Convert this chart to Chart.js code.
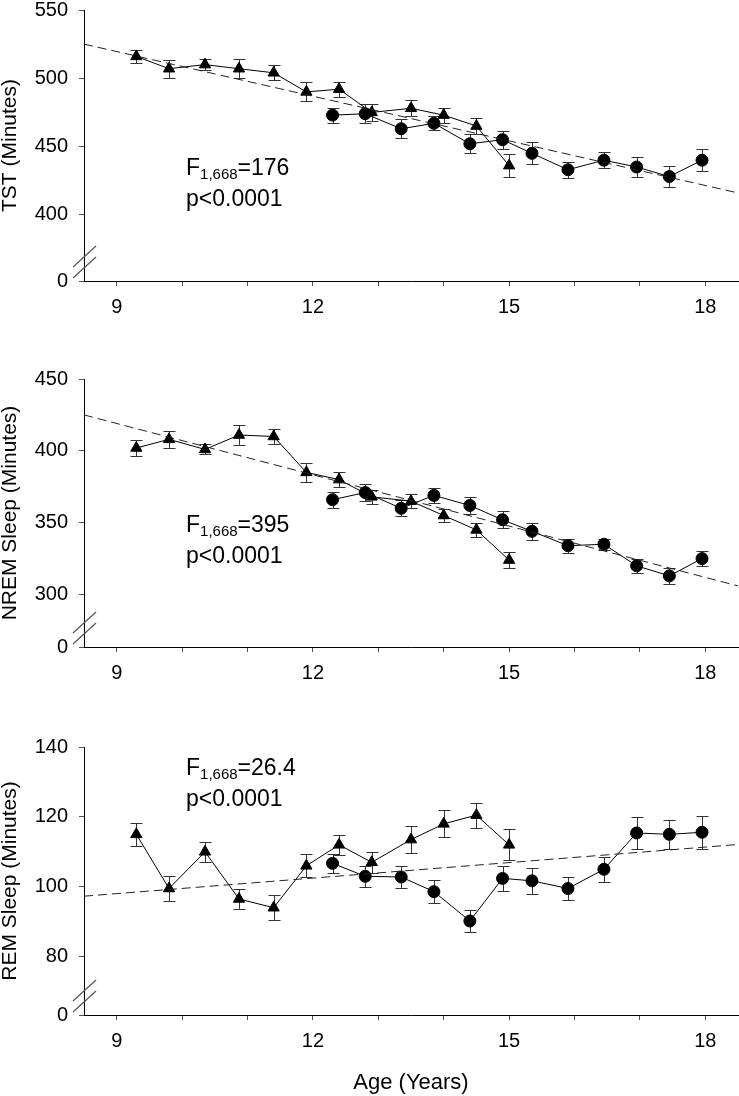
<!DOCTYPE html>
<html>
<head>
<meta charset="utf-8">
<title>Sleep by age</title>
<script src="https://cdn.jsdelivr.net/npm/chart.js@4.4.1/dist/chart.umd.min.js"></script>
<style>
    html, body { margin: 0; padding: 0; background: #fff; }
    #page { position: relative; width: 739px; height: 1096px; overflow: hidden; font-family: "Liberation Sans", Arial, sans-serif; }
    #page canvas { position: absolute; left: 0; }
    .stat { position: absolute; font-size: 23px; line-height: 28px; color: #000; white-space: nowrap; }
    .stat .sub { font-size: 15px; position: relative; top: 4px; }
</style>
</head>
<body>
<div id="page">
    <canvas id="tstChart" width="739" height="340" style="top:-13px;width:739px;height:340px"></canvas>
    <canvas id="nremChart" width="739" height="337" style="top:356px;width:739px;height:337px"></canvas>
    <canvas id="remChart" width="739" height="372" style="top:724px;width:739px;height:372px"></canvas>

    <div class="stat" style="left:186px;top:153px">F<span class="sub">1,668</span>=176<br>p&lt;0.0001</div>
    <div class="stat" style="left:186px;top:510px">F<span class="sub">1,668</span>=395<br>p&lt;0.0001</div>
    <div class="stat" style="left:186px;top:753px">F<span class="sub">1,668</span>=26.4<br>p&lt;0.0001</div>
</div>

<script>
// ========================================
// Data
// ========================================

// ages of the two cohorts (years)
const triAge  = [9.3, 9.8, 10.35, 10.87, 11.4, 11.9, 12.4, 12.9, 13.5, 14.0, 14.5, 15.0];
const circAge = [12.3, 12.8, 13.35, 13.85, 14.4, 14.9, 15.35, 15.9, 16.45, 16.95, 17.45, 17.95];
const trendAge = [8.5, 18.5];

// x axis
const ageTicks = [9, 10, 11, 12, 13, 14, 15, 16, 17, 18];
const ageLabelEvery = 3;

// TST
const tstTri      = [516, 507, 510, 507, 504, 490, 492, 475, 478, 473, 465, 436];
const tstTriErr   = [5, 6.5, 4, 7, 5.5, 7, 5.5, 6, 6, 5.5, 6, 8.5];
const tstCirc     = [473, 474, 463, 467, 452, 455, 445, 433, 440, 435, 428, 440];
const tstCircErr  = [5.5, 7, 7, 5, 7, 6.5, 8, 6, 6, 7, 7.5, 8];
const tstTrend    = [525, 416];
const tstTicks    = [400, 450, 500, 550];

// NREM sleep
const nremTri     = [402, 408, 401, 411, 410, 385, 380, 368, 365, 355, 345, 324];
const nremTriErr  = [5.5, 6, 3.5, 7, 5, 6.5, 5, 5, 5, 4.5, 5, 5.5];
const nremCirc    = [366, 371, 360, 369, 362, 352, 344, 334, 335, 320, 313, 325];
const nremCircErr = [5.5, 6, 5.5, 5, 6, 6, 6, 5, 4, 5, 5.5, 5];
const nremTrend   = [425, 306];
const nremTicks   = [300, 350, 400, 450];

// REM sleep
const remTri      = [115, 99.5, 110, 96.5, 94, 106, 112, 107, 113.5, 118, 120.5, 112];
const remTriErr   = [3.2, 3.7, 2.9, 3, 3.6, 3.3, 2.8, 3, 3.9, 3.9, 3.6, 4.4];
const remCirc     = [106.7, 103, 102.8, 98.6, 90.2, 102.4, 101.7, 99.5, 105, 115.4, 115, 115.6];
const remCircErr  = [2.8, 3, 3.2, 3.3, 3.1, 3.5, 3.8, 3.3, 3.6, 4.6, 4.2, 4.7];
const remTrend    = [97.3, 112.1];
const remTicks    = [80, 100, 120, 140];

const breakLabel = '0';

// ========================================
// Helpers
// ========================================

const FONT = '"Liberation Sans", Arial, sans-serif';

function toPoints(xs, ys) {
    return xs.map((x, i) => ({ x: x, y: ys[i] }));
}

// vertical error bars, drawn under the markers
const errorBarPlugin = {
    id: 'errorBars',
    beforeDatasetsDraw: function(chart) {
        const ctx = chart.ctx;
        const xs = chart.scales.x;
        const ys = chart.scales.y;
        ctx.save();
        ctx.strokeStyle = '#333';
        ctx.lineWidth = 1;
        chart.data.datasets.forEach(ds => {
            if (!ds.errors) return;
            ds.data.forEach((p, i) => {
                const x = Math.round(xs.getPixelForValue(p.x)) + 0.5;
                const lo = Math.round(ys.getPixelForValue(p.y - ds.errors[i])) + 0.5;
                const hi = Math.round(ys.getPixelForValue(p.y + ds.errors[i])) + 0.5;
                ctx.beginPath();
                ctx.moveTo(x, lo); ctx.lineTo(x, hi);
                ctx.moveTo(x - 6, lo); ctx.lineTo(x + 6, lo);
                ctx.moveTo(x - 6, hi); ctx.lineTo(x + 6, hi);
                ctx.stroke();
            });
        });
        ctx.restore();
    }
};

// the "//" marks on the y axis
const axisBreakPlugin = {
    id: 'axisBreak',
    afterDraw: function(chart) {
        const ctx = chart.ctx;
        const a = chart.chartArea;
        ctx.save();
        ctx.strokeStyle = '#555';
        ctx.lineWidth = 1.2;
        ctx.beginPath();
        ctx.moveTo(a.left - 11, a.bottom - 3);  ctx.lineTo(a.left + 12, a.bottom - 24);
        ctx.moveTo(a.left - 11, a.bottom - 14); ctx.lineTo(a.left + 12, a.bottom - 35);
        ctx.stroke();
        ctx.restore();
    }
};

/**
 * Build one panel
 */
function makePanel(canvasId, p) {
    const ctx = document.getElementById(canvasId).getContext('2d');

    const datasets = [
        {
            data: toPoints(trendAge, p.trend),
            borderColor: '#222',
            borderWidth: 1,
            borderDash: [9, 5],
            pointRadius: 0,
            fill: false
        },
        {
            data: toPoints(triAge, p.tri),
            errors: p.triErr,
            borderColor: '#000',
            backgroundColor: '#000',
            borderWidth: 1,
            pointStyle: 'triangle',
            pointRadius: 6.5,
            fill: false
        },
        {
            data: toPoints(circAge, p.circ),
            errors: p.circErr,
            borderColor: '#000',
            backgroundColor: '#000',
            borderWidth: 1,
            pointStyle: 'circle',
            pointRadius: 6,
            fill: false
        }
    ];

    return new Chart(ctx, {
        type: 'line',
        data: { datasets: datasets },
        plugins: [errorBarPlugin, axisBreakPlugin],
        options: {
            responsive: false,
            animation: false,
            devicePixelRatio: 1,
            layout: {
                autoPadding: false,
                padding: { top: 20, right: 1, bottom: 0, left: 0 }
            },
            plugins: {
                legend: { display: false },
                tooltip: { enabled: false }
            },
            scales: {
                x: {
                    type: 'linear',
                    min: 8.5,
                    max: 18.5,
                    afterBuildTicks: function(scale) {
                        scale.ticks = ageTicks.map(v => ({ value: v }));
                    },
                    afterFit: function(scale) {
                        scale.height = p.xHeight;
                        // labels never reach the ends, so no side padding
                        scale.paddingLeft = 0;
                        scale.paddingRight = 0;
                    },
                    grid: { drawOnChartArea: false, tickLength: 5, color: '#555' },
                    border: { color: '#000', width: 1 },
                    ticks: {
                        autoSkip: false,
                        maxRotation: 0,
                        padding: 9,
                        color: '#000',
                        font: { family: FONT, size: 20 },
                        callback: function(v) {
                            return v % ageLabelEvery === 0 ? String(v) : '';
                        }
                    },
                    title: {
                        display: !!p.xTitle,
                        text: p.xTitle || '',
                        color: '#000',
                        font: { family: FONT, size: 22, lineHeight: 1.2 },
                        padding: { top: 0, bottom: 0 }
                    }
                },
                y: {
                    type: 'linear',
                    min: p.breakAt,
                    max: p.ticks[p.ticks.length - 1],
                    afterBuildTicks: function(scale) {
                        scale.ticks = [p.breakAt].concat(p.ticks).map(v => ({ value: v }));
                    },
                    afterFit: function(scale) {
                        scale.width = 84;
                    },
                    grid: { drawOnChartArea: false, tickLength: 5, color: '#555' },
                    border: { color: '#000', width: 1 },
                    ticks: {
                        autoSkip: false,
                        padding: 11,
                        color: '#000',
                        font: { family: FONT, size: 20 },
                        callback: function(v) {
                            return v === p.breakAt ? breakLabel : String(v);
                        }
                    },
                    title: {
                        display: true,
                        text: p.yTitle,
                        color: '#000',
                        font: { family: FONT, size: 21, lineHeight: 1 },
                        padding: { top: 0, bottom: 0 }
                    }
                }
            }
        }
    });
}

makePanel('tstChart', {
    tri: tstTri, triErr: tstTriErr, circ: tstCirc, circErr: tstCircErr,
    trend: tstTrend, ticks: tstTicks, breakAt: 351.5,
    yTitle: 'TST (Minutes)', xHeight: 46
});

makePanel('nremChart', {
    tri: nremTri, triErr: nremTriErr, circ: nremCirc, circErr: nremCircErr,
    trend: nremTrend, ticks: nremTicks, breakAt: 263.5,
    yTitle: 'NREM Sleep (Minutes)', xHeight: 46
});

makePanel('remChart', {
    tri: remTri, triErr: remTriErr, circ: remCirc, circErr: remCircErr,
    trend: remTrend, ticks: remTicks, breakAt: 63.3,
    yTitle: 'REM Sleep (Minutes)', xHeight: 81, xTitle: 'Age (Years)'
});
</script>
</body>
</html>
